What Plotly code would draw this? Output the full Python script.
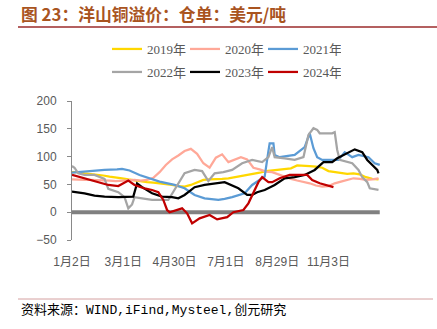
import plotly.graph_objects as go

# ---------------- data (trading-day index, value in USD/t) ----------------
tick_pos = [0, 41, 82, 123, 164, 205]
tick_labels = ["1月2日", "3月1日", "4月30日", "7月1日", "8月29日", "11月3日"]

idx_2019 = list(range(0, 250, 5))
val_2019 = [72, 72, 70, 69, 68, 66, 64, 63, 61, 59,
            57, 55, 54, 53, 52, 51, 49, 47, 46, 49,
            54, 58, 59, 59, 60, 61, 63, 64, 66, 69,
            71, 74, 75, 76, 77, 79, 84, 84, 83, 82,
            80, 74, 72, 71, 69, 70, 68, 63, 60, 59]

idx_2020 = list(range(0, 250, 5))
val_2020 = [59, 58, 58, 58, 58, 57, 57, 56, 57, 58,
            58, 57, 58, 62, 72, 85, 95, 102, 110, 114,
            105, 88, 80, 98, 104, 90, 95, 99, 95, 80,
            77, 73, 72, 68, 63, 60, 57, 55, 52, 48,
            46, 47, 52, 55, 58, 61, 60, 58, 59, 61]

idx_2021 = [0, 14, 26, 36, 40, 46, 54, 70, 82, 90, 98, 106, 117, 122, 128, 138, 144,
            152, 154, 157, 158, 161, 162, 166, 174, 178, 186, 189, 190, 193, 196, 200,
            213, 218, 224, 229, 237, 242, 246]
val_2021 = [71, 74, 76, 77, 78, 75, 67, 55, 49, 43, 31, 25, 22, 24, 27, 34, 49,
            61, 64, 110, 124, 124, 103, 99, 101, 103, 117, 138, 142, 115, 99, 94,
            94, 108, 99, 103, 99, 88, 85]

idx_2022 = [0, 2, 5, 10, 18, 26, 29, 37, 42, 45, 48, 50, 56, 64, 77, 82, 90, 98, 104,
            109, 114, 121, 128, 136, 144, 152, 157, 160, 162, 170, 178, 185, 189, 193,
            196, 198, 208, 210, 212, 214, 224, 229, 232, 236, 238, 245]
val_2022 = [83, 80, 70, 67, 67, 60, 42, 36, 27, 7, 14, 27, 25, 22, 22, 40, 70, 76, 74,
            56, 70, 72, 76, 88, 94, 90, 99, 117, 99, 97, 94, 99, 139, 151,
            148, 142, 142, 144, 112, 94, 88, 76, 63, 54, 43, 40]

idx_2023 = [0, 10, 18, 26, 37, 45, 49, 52, 56, 64, 72, 80, 85, 90, 98, 106, 117, 122,
            133, 140, 144, 148, 154, 162, 170, 178, 186, 194, 201, 208, 212, 220, 226,
            232, 236, 240, 244, 245]
val_2023 = [37, 34, 30, 28, 27, 27, 28, 52, 45, 34, 28, 27, 25, 31, 45, 49, 52, 54,
            43, 31, 31, 36, 40, 49, 61, 63, 67, 76, 90, 90, 97, 106, 113,
            108, 94, 85, 76, 70]

idx_2024 = [0, 10, 21, 29, 37, 45, 50, 58, 64, 69, 73, 76, 78, 84, 88, 92, 96, 102, 110,
            116, 124, 129, 137, 141, 145, 149, 152, 157, 160, 166, 174, 188, 192, 198, 209]
val_2024 = [67, 61, 54, 49, 47, 57, 49, 43, 40, 36, 22, 4, 0, 4, 7, -2, -20, -11, -5,
            -13, -9, 0, 4, 16, 34, 54, 63, 54, 54, 61, 67, 67, 58, 52, 45]

zero_idx = [0, 246]
zero_val = [0, 0]

series = [
    ("2019年", idx_2019, val_2019, "#FFD700", "legend"),
    ("2020年", idx_2020, val_2020, "#FFA898", "legend"),
    ("2021年", idx_2021, val_2021, "#5B9BD5", "legend"),
    ("2022年", idx_2022, val_2022, "#A5A5A5", "legend2"),
    ("2023年", idx_2023, val_2023, "#000000", "legend2"),
    ("2024年", idx_2024, val_2024, "#C00000", "legend2"),
]

# ---------------- layout geometry ----------------
W, H = 437, 329
L, R, T, B = 72, 56, 101, 89
PW, PH = W - L - R, H - T - B


def px_x(px):
    return (px - L) / PW


def px_y(py):
    return (T + PH - py) / PH


fig = go.Figure()

fig.add_trace(go.Scatter(x=zero_idx, y=zero_val, mode="lines",
                         line=dict(color="#808080", width=4),
                         showlegend=False, hoverinfo="skip"))

for name, xs, ys, color, lg in series:
    fig.add_trace(go.Scatter(x=xs, y=ys, mode="lines", name=name,
                             line=dict(color=color, width=2.25),
                             legend=lg))

legend_common = dict(
    orientation="h", xanchor="left", yanchor="middle",
    font=dict(family="Liberation Serif, Noto Sans CJK SC", size=13, color="#595959"),
    bgcolor="rgba(0,0,0,0)", entrywidth=33, entrywidthmode="pixels",
    itemwidth=30, itemclick=False,
)

fig.update_layout(
    width=W, height=H,
    margin=dict(l=L, r=R, t=T, b=B, pad=0),
    paper_bgcolor="white", plot_bgcolor="white",
    showlegend=True,
    legend=dict(x=px_x(107), y=px_y(49), **legend_common),
    legend2=dict(x=px_x(107), y=px_y(72), **legend_common),
    xaxis=dict(range=[0, 247], tickmode="array", tickvals=tick_pos, ticktext=tick_labels,
               showline=False, showgrid=False, zeroline=False, ticks="",
               ticklabelstandoff=13,
               tickfont=dict(family="Liberation Sans, Noto Sans CJK SC", size=12, color="#595959")),
    yaxis=dict(range=[-50, 200], tickmode="linear", tick0=-50, dtick=50,
               showline=True, linecolor="#898989", linewidth=1,
               ticks="outside", ticklen=4, tickcolor="#898989",
               showgrid=False, zeroline=False, ticklabelstandoff=8,
               tickfont=dict(family="Liberation Sans", size=12, color="#595959")),
    annotations=[
        dict(text="<b>图 23：洋山铜溢价：仓单：美元/吨</b>", xref="paper", yref="paper",
             x=px_x(19), y=px_y(14), xanchor="left", yanchor="middle", showarrow=False,
             font=dict(family="Noto Sans CJK SC", size=16.8, color="#A9541F")),
        dict(text="资料来源：WIND,iFind,Mysteel,创元研究", xref="paper", yref="paper",
             x=px_x(19), y=px_y(310), xanchor="left", yanchor="middle", showarrow=False,
             font=dict(family="Liberation Mono, Noto Sans CJK SC", size=13, color="#000000")),
    ],
    shapes=[
        dict(type="line", xref="paper", yref="paper", x0=px_x(18), x1=px_x(437),
             y0=px_y(27), y1=px_y(27), line=dict(color="#9B2B2B", width=1.5)),
        dict(type="line", xref="paper", yref="paper", x0=px_x(18), x1=px_x(433),
             y0=px_y(299), y1=px_y(299), line=dict(color="#D4A0A0", width=1)),
    ],
)

fig.write_html("out.html")
